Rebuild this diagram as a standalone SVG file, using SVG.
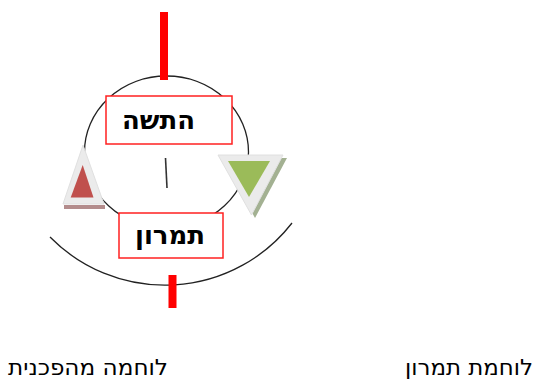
<svg xmlns="http://www.w3.org/2000/svg" width="535" height="379" viewBox="0 0 535 379">
<style>
.line{fill:none;stroke:#222;stroke-width:1.3}
.bar{fill:#ff0000}
.box{fill:#fff;stroke:#ff2020;stroke-width:1.5}
.btxt{font-family:"DejaVu Sans","Liberation Sans",sans-serif;font-weight:bold;font-size:26px;fill:#000;text-anchor:middle}
.lbl{font-family:"DejaVu Sans","Liberation Sans",sans-serif;font-size:22px;fill:#000;text-anchor:middle}
.frame{fill:#ebebeb;stroke:#e0e0e0;stroke-width:1}
</style>
<rect width="535" height="379" fill="#fff"/>
<g id="connectors">
<ellipse class="line" cx="166.5" cy="152" rx="82" ry="76"/>
<path class="line" d="M 50 237 A 161 161 0 0 0 292 223"/>
<line x1="165.5" y1="158" x2="167" y2="188" stroke="#333" stroke-width="1.6"/>
<rect class="bar" x="160" y="12" width="8" height="68"/>
<rect class="bar" x="168.5" y="275" width="8" height="33"/>
</g>
<g id="node-hatasha">
<rect class="box" x="106" y="96" width="126" height="48"/>
<text class="btxt" x="158.5" y="129" direction="rtl" textLength="73" lengthAdjust="spacingAndGlyphs">התשה</text>
</g>
<g id="node-tamaron">
<rect class="box" x="119" y="213" width="104" height="45"/>
<text class="btxt" x="170" y="244" direction="rtl" textLength="70" lengthAdjust="spacingAndGlyphs">תמרון</text>
</g>
<g id="tri-red">
<polygon points="64,205 105,205 105,209 64,209" fill="#b38c8c"/>
<polygon class="frame" points="83,145 63,204 104,204"/>
<polygon points="82.7,165 70.7,197.5 93.5,197.5" fill="#c0504d"/>
</g>
<g id="tri-green">
<polygon points="222,158 287,158 255,218" fill="#a3b192"/>
<polygon class="frame" points="218,155 283,155 251.5,215"/>
<polygon points="228,161 270,161 249,197" fill="#9bbb59"/>
</g>
<g id="labels">
<text class="lbl" x="88" y="375" direction="rtl" textLength="160" lengthAdjust="spacingAndGlyphs">לוחמה מהפכנית</text>
<text class="lbl" x="469" y="375" direction="rtl" textLength="128" lengthAdjust="spacingAndGlyphs">לוחמת תמרון</text>
</g>
</svg>
